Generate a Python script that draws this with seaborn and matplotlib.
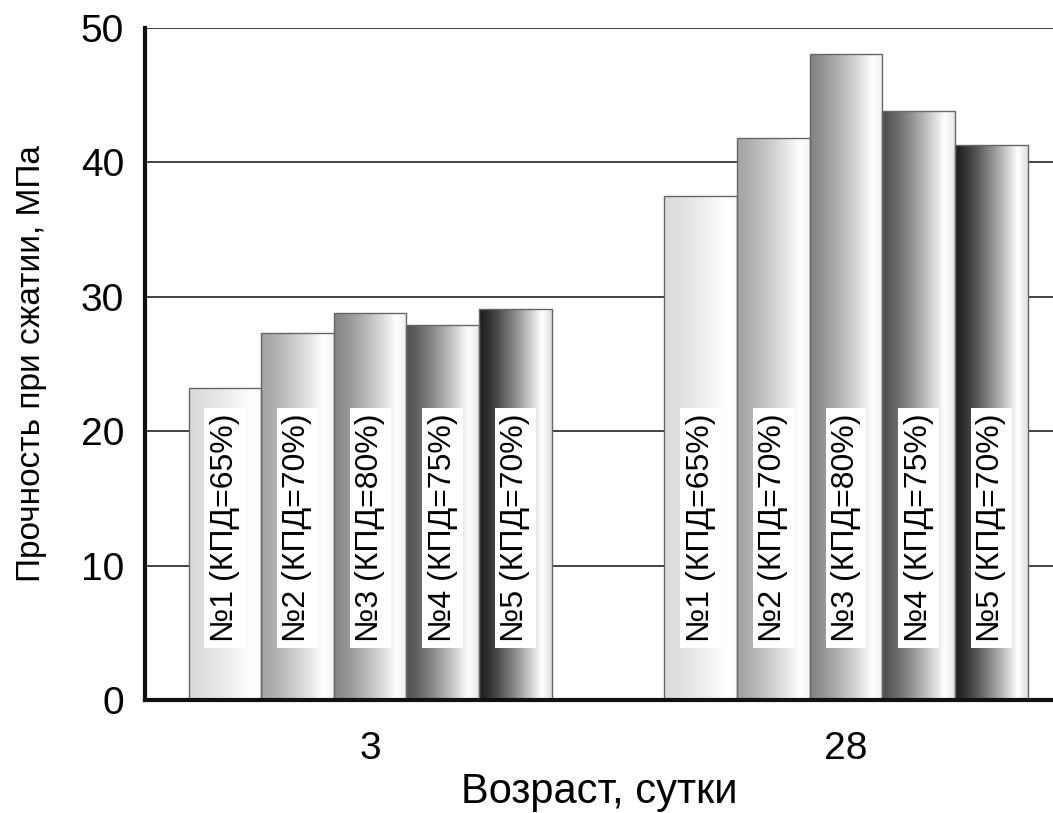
import matplotlib
matplotlib.use("Agg")
import matplotlib.pyplot as plt
import seaborn as sns
import pandas as pd
import numpy as np

# данные
ages = ["3", "28"]
samples = ["№1 (КПД=65%)", "№2 (КПД=70%)", "№3 (КПД=80%)", "№4 (КПД=75%)", "№5 (КПД=70%)"]
strength_3 = [23.2, 27.3, 28.8, 27.9, 29.1]
strength_28 = [37.5, 41.8, 48.1, 43.8, 41.3]
bar_colors = ["#dadada", "#a4a4a4", "#858585", "#505050", "#1e1e1e"]

sns.set_style("white")
plt.rcParams['font.family'] = ['Liberation Sans', 'DejaVu Sans']
plt.rcParams['text.color'] = 'black'
plt.rcParams['axes.labelcolor'] = 'black'
plt.rcParams['xtick.color'] = 'black'
plt.rcParams['ytick.color'] = 'black'

df = pd.DataFrame({
    "age": np.repeat(ages, len(samples)),
    "sample": samples * len(ages),
    "value": strength_3 + strength_28,
})

fig = plt.figure(figsize=(10.53, 8.13), dpi=100)
ax = fig.add_axes([0.1377, 0.139, 0.8623, 0.8266])

sns.barplot(data=df, x="age", y="value", hue="sample", hue_order=samples,
            palette=bar_colors, width=0.763, ax=ax, legend=False,
            edgecolor="#666666", linewidth=1, errorbar=None)

# патчи идут по hue, внутри - по возрасту
bars = list(ax.patches)

# градиентная заливка столбцов
t = np.linspace(0, 1, 200)
shade = np.clip(t / 0.86, 0, 1) ** 1.3
shade = np.where(t > 0.86, 1 - (t - 0.86) * 1.0, shade)
for patch in bars:
    base = np.array(matplotlib.colors.to_rgb(patch.get_facecolor()))
    rgb = base[None, :] + (1 - base[None, :]) * shade[:, None]
    img = rgb[None, :, :]
    x0, y0 = patch.get_x(), patch.get_y()
    w, h = patch.get_width(), patch.get_height()
    im = ax.imshow(img, extent=[x0, x0 + w, y0, y0 + h], aspect="auto",
                   zorder=patch.get_zorder() - 0.01, interpolation="bilinear")
    im.set_clip_path(patch)
    patch.set_facecolor("none")

# подписи внутри столбцов
for k, patch in enumerate(bars):
    label = samples[k // len(ages)]
    xc = patch.get_x() + patch.get_width() / 2
    ax.text(xc, 12.8, label, rotation=90, ha="center", va="center",
            fontsize=23, zorder=5,
            bbox=dict(facecolor="white", edgecolor="none", pad=4))

ax.set_xlim(-0.473, 1.435)
ax.set_ylim(0, 50)
ax.set_yticks([0, 10, 20, 30, 40, 50])
ax.yaxis.grid(True, color="#222222", linewidth=1.2)
ax.set_axisbelow(True)
ax.tick_params(axis="both", length=0, labelsize=28)
ax.tick_params(axis="x", pad=22)
ax.tick_params(axis="y", pad=15)
for s in ["top", "right"]:
    ax.spines[s].set_visible(False)
for s in ["left", "bottom"]:
    ax.spines[s].set_linewidth(3)
    ax.spines[s].set_color("#111111")

ax.set_xlabel("Возраст, сутки", fontsize=30, labelpad=4)
ax.set_ylabel("Прочность при сжатии, МПа", fontsize=24, labelpad=24)

fig.savefig("out.png", dpi=100)
